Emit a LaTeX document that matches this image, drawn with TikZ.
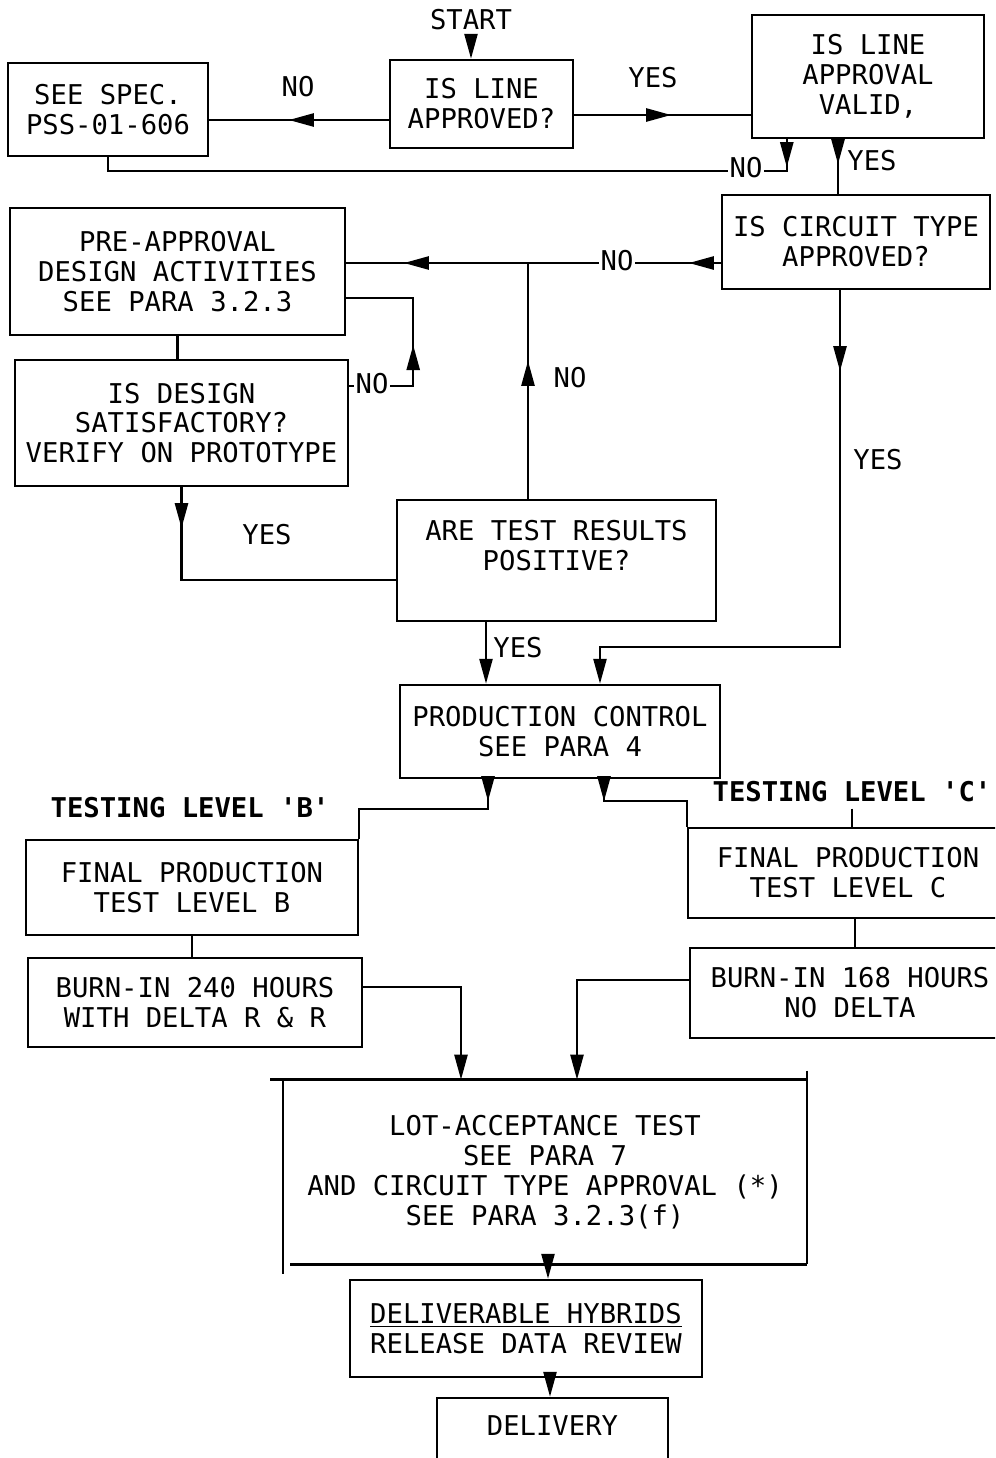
\documentclass[tikz,border=0pt]{standalone}
\usepackage{fontspec}
\setmonofont{DejaVu Sans Mono}
\usetikzlibrary{arrows.meta,calc,decorations.markings}
\tikzset{
  every node/.style={font=\ttfamily\fontsize{15.5}{17}\selectfont},
  box/.style={draw, line width=1.4pt, align=center, inner sep=0pt},
  lbl/.style={inner sep=1pt},
  lblw/.style={fill=white, inner sep=1pt},
  boldlbl/.style={font=\ttfamily\bfseries\fontsize{15.5}{17}\selectfont},
  conn/.style={line width=1.4pt},
  tipa/.tip={Triangle[length=0.5cm,width=0.26cm]},
  ah/.style={postaction={decorate,decoration={markings,mark=at position #1 with {\arrow{tipa}}}}},
  endarr/.style={-{tipa}},
}
\begin{document}
\begin{tikzpicture}[x=0.02cm,y=-0.02cm]
\clip (0,0) rectangle (995,1458);
\fill[white] (0,0) rectangle (995,1458);

% boxes
\node (start) at (471,20) {START};
\node[box,minimum width=3.66cm,minimum height=1.76cm] (isline) at (481.5,104) {IS LINE\\APPROVED?};
\node[box,minimum width=4.0cm,minimum height=1.86cm] (seespec) at (108,109.5) {SEE SPEC.\\PSS-01-606};
\node[box,minimum width=4.64cm,minimum height=2.46cm] (valid) at (868,76.5) {IS LINE\\APPROVAL\\VALID,};
\node[box,minimum width=5.36cm,minimum height=1.88cm] (circ) at (856,242) {IS CIRCUIT TYPE\\APPROVED?};
\node[box,minimum width=6.7cm,minimum height=2.54cm] (pre) at (177.5,271.5) {PRE-APPROVAL\\DESIGN ACTIVITIES\\SEE PARA 3.2.3};
\node[box,minimum width=6.66cm,minimum height=2.52cm] (design) at (181.5,423) {IS DESIGN\\SATISFACTORY?\\VERIFY ON PROTOTYPE};
\node[box,minimum width=6.38cm,minimum height=2.42cm] (test) at (556.5,560.5) {ARE TEST RESULTS\\POSITIVE?\\\mbox{}};
\node[box,minimum width=6.4cm,minimum height=1.86cm] (prod) at (560,731.5) {PRODUCTION CONTROL\\SEE PARA 4};
\node[boldlbl] (labB) at (190,808) {TESTING LEVEL \textquotesingle B\textquotesingle};
\node[boldlbl] (labC) at (852,792) {TESTING LEVEL \textquotesingle C\textquotesingle};
\node[box,minimum width=6.64cm,minimum height=1.9cm] (finb) at (192,887.5) {FINAL PRODUCTION\\TEST LEVEL B};
\node[box,minimum width=6.68cm,minimum height=1.78cm] (burnb) at (195,1002.5) {BURN-IN 240 HOURS\\WITH DELTA R \& R};
\node[box,minimum width=6.4cm,minimum height=1.8cm] (finc) at (848,873) {FINAL PRODUCTION\\TEST LEVEL C};
\node[box,minimum width=6.4cm,minimum height=1.8cm] (burnc) at (850,993) {BURN-IN 168 HOURS\\NO DELTA};
\node[align=center,inner sep=0pt,minimum width=10.46cm,minimum height=3.68cm] (lot) at (545,1172) {LOT-ACCEPTANCE TEST\\SEE PARA 7\\AND CIRCUIT TYPE APPROVAL (*)\\SEE PARA 3.2.3(f)};
\node[box,minimum width=7.04cm,minimum height=1.94cm] (deliv) at (526,1328.5) {\underline{DELIVERABLE HYBRIDS}\\RELEASE DATA REVIEW};
\node[box,minimum width=4.62cm,minimum height=1.68cm] (delivery) at (552.5,1440) {DELIVERY\\\mbox{}};

% lot-acceptance box outline
\draw[conn] ($(lot.north west)+(-13,0)$) -- (lot.north east);
\draw[conn] (lot.north west) -- ($(lot.south west)+(0,10)$);
\draw[conn] ($(lot.north east)+(0,-9)$) -- (lot.south east);
\draw[conn] ($(lot.south west)+(7,0)$) -- (lot.south east);

% coordinates
\coordinate (a2) at ($(isline.west)+(0,16)$);
\coordinate (a3) at ($(isline.east)+(0,11)$);
\coordinate (a4) at ($(valid.south west)+(36,0)$);
\coordinate (a5) at ($(valid.south)+(-30,0)$);
\coordinate (a6) at ($(circ.west)+(0,21)$);
\coordinate (t1) at ($(test.north)+(-28.5,0)$);
\coordinate (j1) at (a6 -| t1);
\coordinate (d1) at ($(design.east)+(0,-37)$);
\coordinate (p1) at ($(pre.east)+(0,26.5)$);
\coordinate (tw) at ($(test.west)+(0,19.5)$);
\coordinate (t2) at ($(test.south)+(-70.5,0)$);
\coordinate (c1) at ($(circ.south)+(-16,0)$);
\coordinate (s1) at ($(prod.south)+(-72,0)$);
\coordinate (s2) at ($(prod.south)+(44,0)$);
\coordinate (f2) at ($(finc.south)+(7,0)$);
\coordinate (b1) at ($(burnb.east)+(0,-15.5)$);
\coordinate (b2) at ($(burnc.west)+(0,-13)$);
\coordinate (l1) at ($(lot.south)+(3,0)$);
\coordinate (d2) at ($(deliv.south)+(24,0)$);

% connectors
\draw[conn,endarr] (start.south) -- (start.south |- isline.north);
\draw[conn,ah=2cm] (a2) -- (a2 -| seespec.east);
\draw[conn,ah=1.94cm] (a3) -- (a3 -| valid.west);
\draw[conn,ah=0.56cm] (a4) -- ++(0,32) -| (seespec.south);
\draw[conn,ah=0.5cm] (a5) -- (a5 |- circ.north);
\draw[conn,ah=0.64cm,ah=6.34cm] (a6) -- (a6 -| pre.east);
\draw[conn,ah=2.76cm] (t1) -- (j1);
\draw[conn,ah=2.1cm] (d1) -| ($(p1)+(67,0)$) -- (p1);
\draw[conn] (pre.south) -- (pre.south |- design.north);
\draw[conn,ah=0.82cm] (design.south) |- (tw);
\draw[conn,endarr] (t2) -- (t2 |- prod.north);
\draw[conn,ah=1.62cm,endarr] (c1) |- ($(prod.north)+(40,-37)$) -- ($(prod.north)+(40,0)$);
\draw[conn,ah=0.44cm] (s1) -- ++(0,30) -| (finb.north east);
\draw[conn,ah=0.44cm] (s2) -- ++(0,22) -| (finc.north west);
\draw[conn] (labC.south) -- (labC.south |- finc.north);
\draw[conn] (finb.south) -- (finb.south |- burnb.north);
\draw[conn] (f2) -- (f2 |- burnc.north);
\draw[conn,endarr] (b1) -| ($(lot.north)+(-84,0)$);
\draw[conn,endarr] (b2) -| ($(lot.north)+(32,0)$);
\draw[conn,endarr] (l1) -- (l1 |- deliv.north);
\draw[conn,endarr] (d2) -- (d2 |- delivery.north);

% labels
\node[lbl] (n1) at (298,87) {NO};
\node[lbl] (y1) at (653,78) {YES};
\node[lblw] (n2) at (746,168) {NO};
\node[lbl] (y2) at (872,161) {YES};
\node[lblw] (n3) at (617,261) {NO};
\node[lblw] (n4) at (372,384) {NO};
\node[lbl] (n5) at (570,378) {NO};
\node[lbl] (y3) at (267,535) {YES};
\node[lbl] (y4) at (518,648) {YES};
\node[lbl] (y5) at (878,460) {YES};
\end{tikzpicture}
\end{document}
